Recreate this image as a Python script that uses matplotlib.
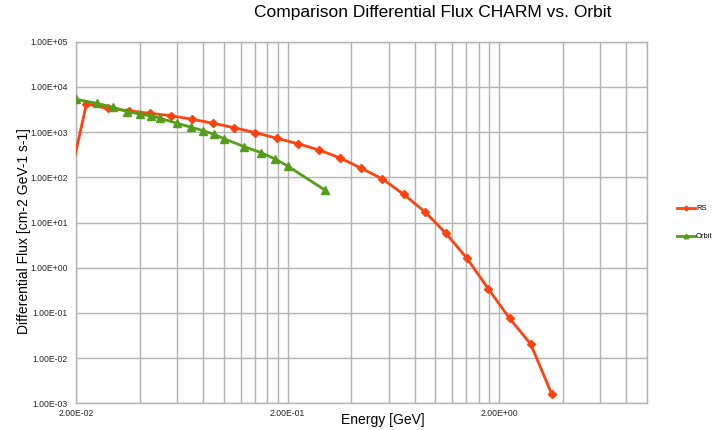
import numpy as np
import matplotlib
matplotlib.use('Agg')
import matplotlib.pyplot as plt
from matplotlib.ticker import FixedLocator, FuncFormatter, NullFormatter

plt.rcParams['font.family'] = ['Liberation Sans', 'DejaVu Sans']

# data
rs_energy = [0.0178, 0.0224, 0.0282, 0.0355, 0.0447, 0.0562, 0.0708, 0.0891,
             0.112, 0.141, 0.178, 0.224, 0.282, 0.355, 0.447, 0.562, 0.708,
             0.891, 1.12, 1.41, 1.78, 2.24, 2.82, 3.55]
rs_flux = [32, 4190, 3360, 2970, 2600, 2310, 1920, 1570,
           1250, 970, 730, 553, 401, 267, 158, 91.6, 42,
           17.3, 5.77, 1.61, 0.338, 0.076, 0.0205, 0.00158]

orbit_energy = [0.02, 0.025, 0.03, 0.035, 0.04, 0.045, 0.05, 0.06, 0.07,
                0.08, 0.09, 0.1, 0.125, 0.15, 0.175, 0.2, 0.3]
orbit_flux = [5320, 4340, 3540, 2830, 2510, 2300, 2020, 1570, 1280,
              1070, 894, 714, 475, 350, 254, 178, 52.4]

y_ticks = [1e-3, 1e-2, 1e-1, 1e0, 1e1, 1e2, 1e3, 1e4, 1e5]
x_ticks = [0.02, 0.2, 2]
x_min, x_max = 0.02, 10

grid_col = '#b3b3b3'
rs_col = '#ff420e'
orbit_col = '#579d1c'

fig = plt.figure(figsize=(7.13, 4.30), dpi=100)
ax = fig.add_axes([76 / 713, 1 - 403.3 / 430, 571 / 713, 361.6 / 430])
ax.set_xscale('log')
ax.set_yscale('log')
ax.set_xlim(x_min, x_max)
ax.set_ylim(1e-3, 1e5)

ax.plot(rs_energy, rs_flux, color=rs_col, lw=2, marker='D', ms=4,
        mec=rs_col, label='RS', zorder=3)
ax.plot(orbit_energy, orbit_flux, color=orbit_col, lw=2, marker='^', ms=5.5,
        mec=orbit_col, label='Orbit', zorder=4)

# excel/calc style log grid starting at 0.02
minor = [k * d for d in x_ticks for k in range(2, 10) if k * d <= x_max]
ax.xaxis.set_major_locator(FixedLocator(x_ticks))
ax.xaxis.set_minor_locator(FixedLocator(minor))
ax.xaxis.set_minor_formatter(NullFormatter())
ax.yaxis.set_major_locator(FixedLocator(y_ticks))
ax.yaxis.set_minor_locator(FixedLocator([]))

def sci(v, pos):
    return '%.2E' % v

ax.xaxis.set_major_formatter(FuncFormatter(sci))
ax.yaxis.set_major_formatter(FuncFormatter(sci))

ax.grid(True, which='both', color=grid_col, lw=1)
ax.set_axisbelow(True)
for sp in ax.spines.values():
    sp.set_color(grid_col)
    sp.set_linewidth(1)
ax.tick_params(which='both', length=0, labelsize=6.2, colors='#222222', pad=6)
ax.tick_params(axis='x', pad=4)

fig.text(383 / 713, 1 - 420 / 430, 'Energy [GeV]', ha='center', va='center',
         fontsize=10)
fig.text(24 / 713, 1 - 231 / 430, 'Differential Flux [cm-2 GeV-1 s-1]',
         ha='center', va='center', rotation=90, fontsize=10)
fig.text(433 / 713, 1 - 13 / 430, 'Comparison Differential Flux CHARM vs. Orbit',
         ha='center', va='center', fontsize=12.5)

ax.legend(loc='center left', bbox_to_anchor=(677 / 713, 1 - 222.8 / 430),
          bbox_transform=fig.transFigure, frameon=False, fontsize=5.5,
          handlelength=2.4, handletextpad=0.1, labelspacing=2.7,
          borderpad=0, borderaxespad=0, markerscale=0.6)

fig.savefig('out.png', dpi=100)
